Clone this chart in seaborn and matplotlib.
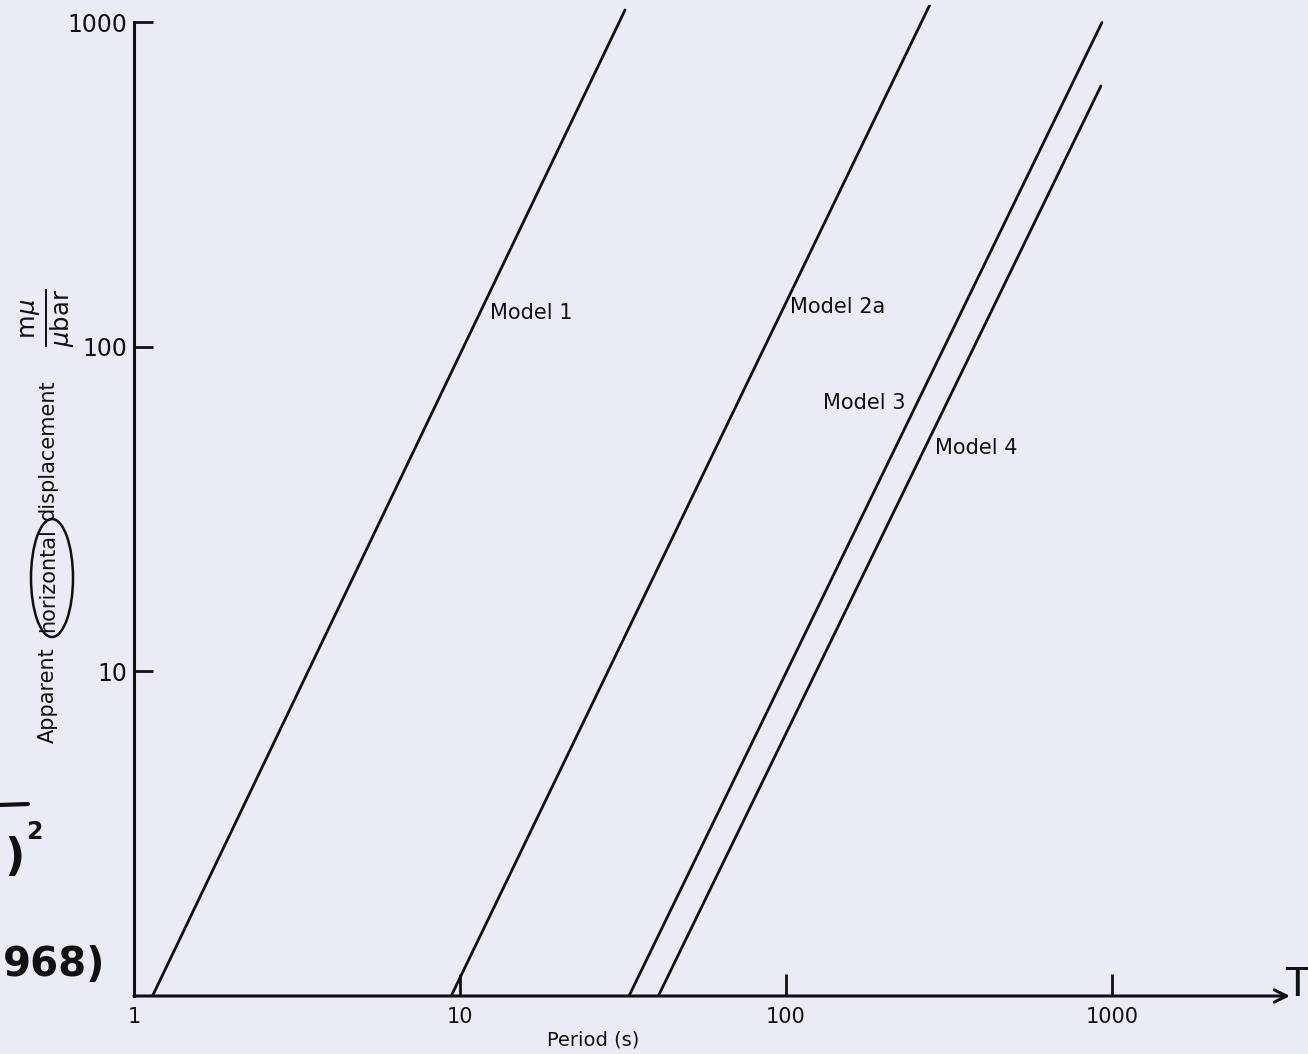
import numpy as np
import pandas as pd
import matplotlib
matplotlib.use("Agg")
import matplotlib.pyplot as plt
import seaborn as sns
from matplotlib.patches import Ellipse
from matplotlib.lines import Line2D

# Apparent horizontal displacement per unit pressure vs. period, four earth models.
# Each model is a straight line on log-log axes, given by its two end points.
models = ["Model 1", "Model 2a", "Model 3", "Model 4"]
period_start = [1.14, 9.4, 33.0, 40.6]
period_end = [32.1, 277.0, 932.0, 925.0]
disp_start = [1.0, 1.0, 1.0, 1.0]
disp_end = [1093.0, 1140.0, 1000.0, 637.0]

# label anchors (left edge of each label)
label_period = [12.4, 102.8, 130.0, 286.0]
label_disp = [127.0, 133.0, 67.0, 48.8]

x_ticks = [1, 10, 100, 1000]
x_tick_labels = ["1", "10", "100", "1000"]
y_ticks = [10, 100, 1000]
y_tick_labels = ["10", "100", "1000"]

rows = []
for name, t0, t1, d0, d1 in zip(models, period_start, period_end, disp_start, disp_end):
    rows.append({"model": name, "period": t0, "disp": d0})
    rows.append({"model": name, "period": t1, "disp": d1})
df = pd.DataFrame(rows)

sns.set_theme(style="white")
plt.rcParams["font.family"] = ["DejaVu Sans"]
paper = "#e9ebf5"
ink = "#111111"

fig = plt.figure(figsize=(13.08, 10.54), dpi=100, facecolor=paper)
ax = fig.add_axes([0.1024, 0.05503, 0.8838, 0.94023])
ax.set_facecolor(paper)

sns.lineplot(data=df, x="period", y="disp", units="model", estimator=None,
             color=ink, linewidth=2.0, ax=ax, legend=False)

ax.set_xscale("log")
ax.set_yscale("log")
ax.set_xlim(1, 3516)
ax.set_ylim(1, 1132)

for name, tx, ty in zip(models, label_period, label_disp):
    ax.text(tx, ty, name, fontsize=15, color=ink, ha="left", va="center")

# axes styling
for side in ["top", "right"]:
    ax.spines[side].set_visible(False)
ax.spines["left"].set_bounds(1, 1000)
ax.spines["left"].set_linewidth(2.2)
ax.spines["left"].set_color(ink)
ax.spines["bottom"].set_visible(False)
ax.annotate("", xy=(1.0, 0.0), xycoords="axes fraction",
            xytext=(0.0, 0.0), textcoords="axes fraction",
            arrowprops=dict(arrowstyle="->", lw=2.2, color=ink,
                            shrinkA=0, shrinkB=0, mutation_scale=22))

ax.set_xticks(x_ticks)
ax.set_xticklabels(x_tick_labels)
ax.set_yticks(y_ticks)
ax.set_yticklabels(y_tick_labels)
ax.minorticks_off()
ax.tick_params(axis="x", direction="in", length=16, width=2, color=ink,
               labelsize=15, labelcolor=ink, pad=8, bottom=True)
ax.tick_params(axis="y", direction="in", length=14, width=2, color=ink,
               labelsize=17, labelcolor=ink, pad=5, left=True)
for lbl in ax.get_xticklabels()[1:]:
    lbl.set_x(lbl.get_position()[0])
ax.set_xlabel("")
ax.set_ylabel("")

# axis titles
fig.text(593 / 1308, 1 - 1040 / 1054, "Period (s)", fontsize=14, color=ink,
         ha="center", va="center")
ylab = [("Apparent", 695), ("horizontal", 580), ("displacement", 450)]
for word, ypix in ylab:
    fig.text(48 / 1308, 1 - ypix / 1054, word, fontsize=15, color=ink,
             rotation=90, ha="center", va="center")
fig.text(48 / 1308, 1 - 318 / 1054, r"$\frac{\mathrm{m}\mu}{\mu\mathrm{bar}}$",
         fontsize=25, color=ink, rotation=90, ha="center", va="center")
fig.add_artist(Ellipse((52 / 1308, 1 - 578 / 1054), 42 / 1308, 118 / 1054,
                       transform=fig.transFigure, fill=False, lw=1.8, ec=ink))

# period symbol at the end of the axis
fig.text(1297 / 1308, 1 - 985 / 1054, "T", fontsize=28, color=ink,
         ha="center", va="center")

# pen notes on the left margin
fig.text(3 / 1308, 1 - 965 / 1054, "968)", fontsize=29, fontweight="bold",
         color=ink, ha="left", va="center")
fig.text(4 / 1308, 1 - 858 / 1054, ")", fontsize=32, fontweight="bold",
         color=ink, ha="left", va="center")
fig.text(26 / 1308, 1 - 832 / 1054, "2", fontsize=17, fontweight="bold",
         color=ink, ha="left", va="center")
fig.add_artist(Line2D([0.0, 28 / 1308], [1 - 805 / 1054, 1 - 804 / 1054],
                      transform=fig.transFigure, lw=3, color=ink))

fig.savefig("out.png", dpi=100, facecolor=paper)
